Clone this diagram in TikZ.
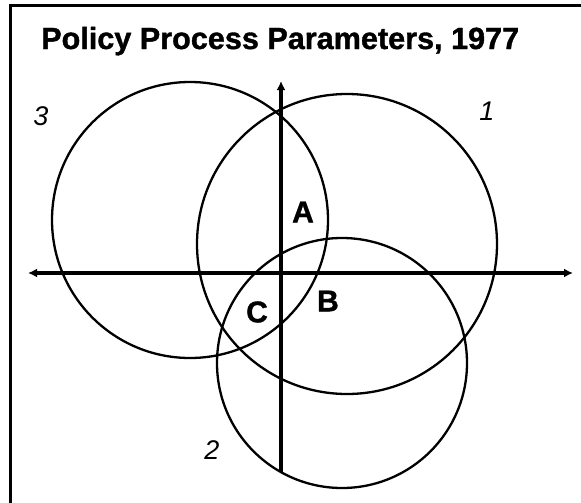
\documentclass[tikz,border=0pt]{standalone}
\usepackage{fontspec}
\setmainfont{Liberation Sans}
\newfontfamily\heavyfont{Liberation Sans Bold}[FakeBold=1.2]
\usetikzlibrary{arrows.meta}
\begin{document}
\begin{tikzpicture}[x=1pt,y=-1pt,
  frameline/.style={line width=3pt},
  axisline/.style={line width=3.5pt},
  tip/.style={-{Latex[length=9pt,width=9pt]}},
  setcircle/.style={circle, draw, line width=2.3pt, inner sep=0pt},
  region/.style={font=\heavyfont\fontsize{30}{34}\selectfont, inner sep=0pt},
  setlabel/.style={font=\itshape\fontsize{27}{32}\selectfont, inner sep=0pt},
]
\useasboundingbox (0,0) rectangle (581,503);
% frame
\coordinate (ftop) at (581,6);
\coordinate (fcorner) at (10,6);
\coordinate (fbot) at (10,503);
\draw[frameline] (ftop) -- (fcorner) -- (fbot);
% title
\node[anchor=base west, inner sep=0pt, font=\heavyfont\fontsize{30.6}{36}\selectfont] (title) at (41,49) {Policy Process Parameters, 1977};
% circles
\node[setcircle, minimum size=276pt] (c3) at (190,220) {};
\node[setcircle, minimum size=300pt] (c1) at (347,244) {};
\node[setcircle, minimum size=250pt] (c2) at (342,363) {};
% axes
\coordinate (hleft) at (28,273);
\coordinate (hright) at (573,273);
\coordinate (vtop) at (281,81);
\coordinate (vbot) at (281,472);
\draw[axisline, {Latex[length=9pt,width=9pt]}-{Latex[length=9pt,width=9pt]}] (hleft) -- (hright);
\draw[axisline, tip] (vbot) -- (vtop);
% labels
\node[region] (A) at (303,212) {A};
\node[region] (B) at (328,301) {B};
\node[region] (C) at (257,312) {C};
\node[setlabel] (l3) at (41,116) {3};
\node[setlabel] (l1) at (487,111) {1};
\node[setlabel] (l2) at (212,450) {2};
\end{tikzpicture}
\end{document}
